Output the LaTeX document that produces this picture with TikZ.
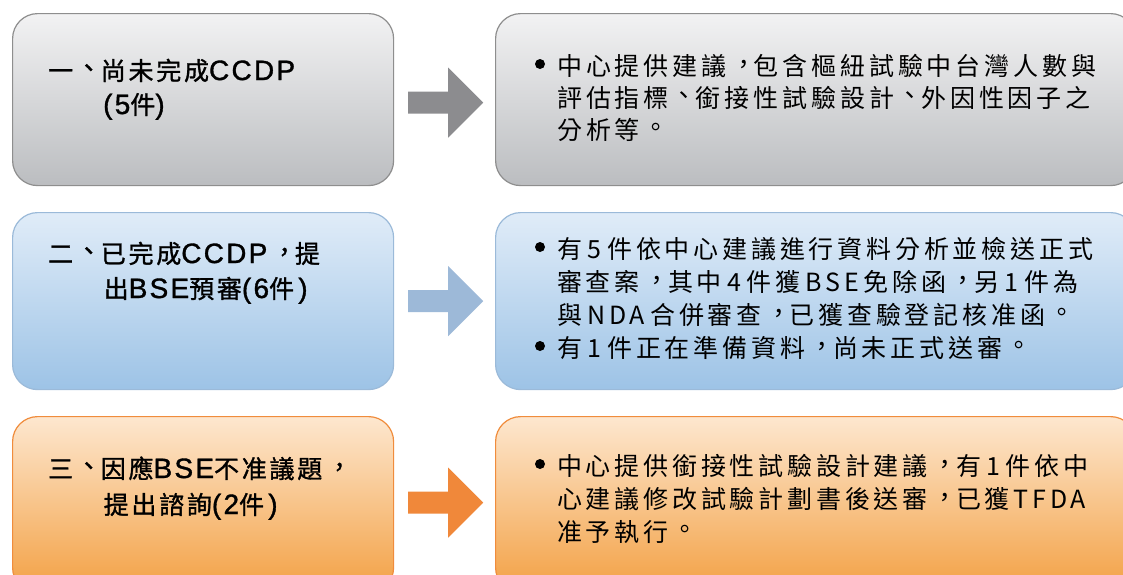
\documentclass[tikz,border=0pt]{standalone}
\usepackage{fontspec}
\newfontfamily\cjkL[LetterSpace=11, FakeBold=1.2]{Noto Sans CJK TC}
\newfontfamily\latL[LetterSpace=8, FakeBold=1.2]{Liberation Sans}
\newfontfamily\cjkRa[LetterSpace=15.5]{Noto Sans CJK TC}
\newfontfamily\cjkRb[LetterSpace=15.2]{Noto Sans CJK TC}
\newcommand\LL[1]{{\fontsize{28pt}{34pt}\latL #1}}
\newcommand\dg[1]{\makebox[25pt]{#1}}
\newcommand\pw{27pt}
\newcommand\pun[3]{\makebox[\pw][l]{\hspace*{#2}\raisebox{#3}{#1}}}
\newcommand\cm{\pun{，}{4.5pt}{2pt}}
\newcommand\pd{\pun{。}{4pt}{3pt}}
\newcommand\dn{\pun{、}{3pt}{3pt}}
\newcommand\rows[2]{\vtop{\baselineskip=#1\lineskiplimit=-50pt\lineskip=0pt #2}}
\newcommand\barrow[3]{\fill[#1] ([shift={(14,#3)}]#2) ++(0,-11) -- ++(40,0) -- ++(0,-24) -- ++(35,35) -- ++(-35,35) -- ++(0,-24) -- ++(-40,0) -- cycle;}
\definecolor{grayT}{HTML}{F2F2F3}
\definecolor{grayB}{HTML}{BBBDC0}
\definecolor{grayE}{HTML}{8E8E8E}
\definecolor{grayA}{HTML}{8C8C8F}
\definecolor{blueT}{HTML}{E0ECF8}
\definecolor{blueB}{HTML}{9DC3E6}
\definecolor{blueE}{HTML}{9BBAD9}
\definecolor{blueA}{HTML}{9DB9D8}
\definecolor{orT}{HTML}{FDE7CF}
\definecolor{orB}{HTML}{F3A043}
\definecolor{orE}{HTML}{F08C3C}
\definecolor{orA}{HTML}{F0883A}
\tikzset{
  box/.style={rounded corners=25pt, line width=1.2pt, minimum width=381pt, anchor=north west, inner sep=0pt},
  rbox/.style={box, minimum width=640pt},
  gbox/.style={draw=grayE, top color=grayT, bottom color=grayB},
  bbox/.style={draw=blueE, top color=blueT, bottom color=blueB},
  obox/.style={draw=orE, top color=orT, bottom color=orB},
  ltext/.style={anchor=base west, inner sep=0pt, font=\fontsize{25pt}{34pt}\cjkL\renewcommand\pw{27.6pt}},
  rtexta/.style={anchor=base west, inner sep=0pt, font=\fontsize{25pt}{32pt}\cjkRa\renewcommand\pw{27.1pt}},
  rtextb/.style={anchor=base west, inner sep=0pt, font=\fontsize{25pt}{33pt}\cjkRb\renewcommand\pw{28.2pt}},
}
\begin{document}
\begin{tikzpicture}[x=1pt,y=-1pt]
\useasboundingbox (0,0) rectangle (1123,574);
\clip (0,0) rectangle (1123,574);
\fill[white] (0,0) rectangle (1123,574);
% boxes
\node[box, gbox, minimum height=172pt] (b1l) at (12,13) {};
\node[rbox, gbox, minimum height=172pt] (b1r) at (495,13) {};
\node[box, bbox, minimum height=177pt] (b2l) at (12,212) {};
\node[rbox, bbox, minimum height=177pt] (b2r) at (495,212) {};
\node[box, obox, minimum height=176pt] (b3l) at (12,416) {};
\node[rbox, obox, minimum height=176pt] (b3r) at (495,416) {};
% arrows
\barrow{grayA}{b1l.east}{3}
\barrow{blueA}{b2l.east}{0}
\barrow{orA}{b3l.east}{-2}
% left texts
\node[ltext] (t1l) at (48,80) {\rows{34pt}{\hbox{一\dn 尚未完成\LL{CCDP}}\hbox{\hspace*{55pt}\LL{(5}件\LL{)}}}};
\node[ltext] (t2l) at (48,263) {\rows{35pt}{\hbox{二\dn 已完成\LL{CCDP}\cm 提}\hbox{\hspace*{55.5pt}出\LL{BSE}預審\LL{(6}件\,\LL{)}}}};
\node[ltext] (t3l) at (48,478) {\rows{36pt}{\hbox{三\dn 因應\LL{BSE}不准議題\cm}\hbox{\hspace*{55.5pt}提出諮詢\LL{(2}件\,\LL{)}}}};
% right texts
\node[rtexta] (t1r) at (557,75.5) {\rows{32pt}{\hbox{中心提供建議\cm 包含樞紐試驗中台灣人數與}\hbox{評估指標\dn 銜接性試驗設計\dn 外因性因子之}\hbox{分析等\pd}}};
\node[rtextb] (t2r) at (557,258.5) {\rows{33pt}{\hbox{有\dg{5}件依中心建議進行資料分析並檢送正式}\hbox{審查案\cm 其中\dg{4}件獲\makebox[63pt]{BSE}免除函\cm 另\dg{1}件為}\hbox{與\makebox[68pt]{NDA}合併審查\cm 已獲查驗登記核准函\pd}\hbox{有\dg{1}件正在準備資料\cm 尚未正式送審\pd}}};
\node[rtextb] (t3r) at (557,475.5) {\rows{33pt}{\hbox{中心提供銜接性試驗設計建議\cm 有\dg{1}件依中}\hbox{心建議修改試驗計劃書後送審\cm 已獲\makebox[80pt]{TFDA}}\hbox{准予執行\pd}}};
% bullets
\fill (540,64) circle (5pt);
\fill (540,247) circle (5pt);
\fill (540,346) circle (5pt);
\fill (540,464) circle (5pt);
\end{tikzpicture}
\end{document}
